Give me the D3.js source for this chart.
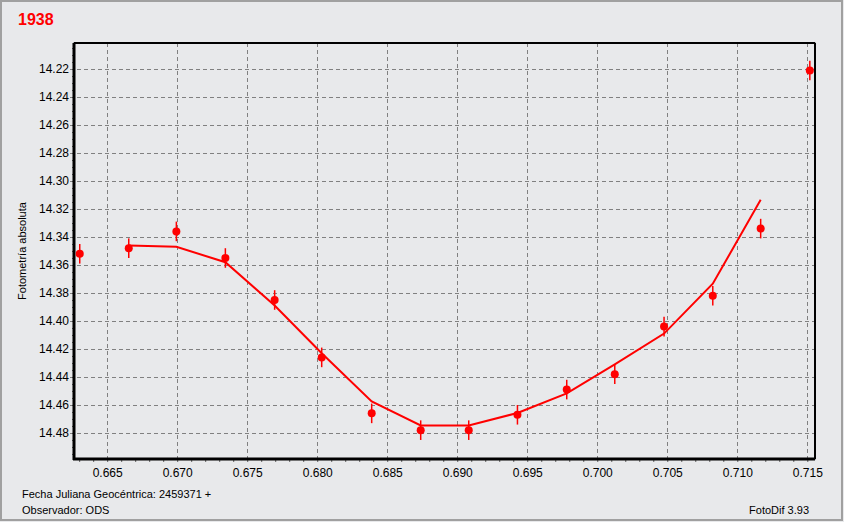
<!DOCTYPE html>
<html><head><meta charset="utf-8">
<script src="https://cdn.jsdelivr.net/npm/d3@7"></script>
<style>
html,body{margin:0;padding:0;background:#e8e9eb;}
svg{display:block;}
text{font-family:"Liberation Sans",Arial,sans-serif;}
</style></head>
<body>
<script>
// ---- data ----
const jd  = [0.66304, 0.66654, 0.66994, 0.67344, 0.67696, 0.68032, 0.68389, 0.68739, 0.69082, 0.69430, 0.69782, 0.70125, 0.70477, 0.70825, 0.71167, 0.71518];
const mag = [14.352, 14.348, 14.336, 14.355, 14.385, 14.426, 14.466, 14.478, 14.478, 14.467, 14.449, 14.438, 14.404, 14.382, 14.334, 14.221];
const err = [0.007, 0.007, 0.007, 0.007, 0.007, 0.007, 0.007, 0.007, 0.007, 0.007, 0.007, 0.007, 0.007, 0.007, 0.007, 0.007];
const fitJd  = [0.66654, 0.66994, 0.67344, 0.67696, 0.68032, 0.68389, 0.68739, 0.69082, 0.69430, 0.69782, 0.70125, 0.70477, 0.70825, 0.71167];
const fitMag = [14.346, 14.347, 14.358, 14.389, 14.423, 14.4575, 14.4746, 14.4746, 14.4657, 14.4517, 14.431, 14.409, 14.3734, 14.3134];
const xTicks = [0.665, 0.670, 0.675, 0.680, 0.685, 0.690, 0.695, 0.700, 0.705, 0.710, 0.715];
const yTicks = [14.22, 14.24, 14.26, 14.28, 14.30, 14.32, 14.34, 14.36, 14.38, 14.40, 14.42, 14.44, 14.46, 14.48];
const title = "1938";
const yLabel = "Fotometría absoluta";
const footer1 = "Fecha Juliana Geocéntrica: 2459371 +";
const footer2 = "Observador: ODS";
const footer3 = "FotoDif 3.93";

const W = 844, H = 522;
const L = 74, R = 815, T = 43, B = 459;

const svg = d3.select("body").append("svg").attr("width", W).attr("height", H);
svg.append("rect").attr("x",0).attr("y",0).attr("width",W).attr("height",H).attr("fill","#e8e9eb");
// window frame
svg.append("rect").attr("x",1).attr("y",1).attr("width",W-3).attr("height",H-3)
  .attr("fill","none").attr("stroke","#a0a0a0").attr("stroke-width",2);

const x = d3.scaleLinear().domain([0.66263, 0.71555]).range([L, R]);
const y = d3.scaleLinear().domain([14.2014, 14.4986]).range([T, B]);

// grid
const g = svg.append("g");
g.selectAll(".gx").data(xTicks).join("line")
  .attr("x1", d => Math.round(x(d))+0.5).attr("x2", d => Math.round(x(d))+0.5)
  .attr("y1", T).attr("y2", B)
  .attr("stroke","#808080").attr("stroke-dasharray","4,3");
g.selectAll(".gy").data(yTicks).join("line")
  .attr("y1", d => Math.round(y(d))+0.5).attr("y2", d => Math.round(y(d))+0.5)
  .attr("x1", L-4).attr("x2", R)
  .attr("stroke","#808080").attr("stroke-dasharray","4,3");

// axes via d3
const xMinor = d3.range(663, 716).map(v => v/1000);
const xAxis = d3.axisBottom(x).tickValues(xMinor).tickSize(3).tickFormat("");
svg.append("g").attr("transform",`translate(0,${B})`).call(xAxis)
  .call(s => s.select(".domain").remove())
  .call(s => s.selectAll("line").attr("stroke","#606060"));
const xLab = d3.axisBottom(x).tickValues(xTicks).tickSize(0).tickPadding(9).tickFormat(d3.format(".3f"));
svg.append("g").attr("transform",`translate(0,${B})`).call(xLab)
  .call(s => s.select(".domain").remove())
  .call(s => s.selectAll("text").attr("font-size",12).attr("fill","#000").attr("font-family","Liberation Sans, Arial, sans-serif"));

const yMinor = d3.range(14205, 14500, 5).map(v => v/1000);
const yAxisMinor = d3.axisLeft(y).tickValues(yMinor).tickSize(2).tickFormat("");
svg.append("g").attr("transform",`translate(${L},0)`).call(yAxisMinor)
  .call(s => s.select(".domain").remove())
  .call(s => s.selectAll("line").attr("stroke","#606060"));
const yLab = d3.axisLeft(y).tickValues(yTicks).tickSize(0).tickPadding(5).tickFormat(d3.format(".2f"));
svg.append("g").attr("transform",`translate(${L},0)`).call(yLab)
  .call(s => s.select(".domain").remove())
  .call(s => s.selectAll("text").attr("font-size",12).attr("fill","#000").attr("font-family","Liberation Sans, Arial, sans-serif"));

// plot frame
svg.append("rect").attr("x",L).attr("y",T).attr("width",R-L).attr("height",B-T)
  .attr("fill","none").attr("stroke","#000").attr("stroke-width",1);
svg.append("line").attr("x1",L).attr("x2",L).attr("y1",T).attr("y2",B+1).attr("stroke","#000").attr("stroke-width",3);
svg.append("line").attr("x1",L-1).attr("x2",R).attr("y1",B).attr("y2",B).attr("stroke","#000").attr("stroke-width",3);
svg.append("line").attr("x1",L).attr("x2",R).attr("y1",T).attr("y2",T).attr("stroke","#000").attr("stroke-width",2);
svg.append("line").attr("x1",R).attr("x2",R).attr("y1",T).attr("y2",B).attr("stroke","#000").attr("stroke-width",2);

// fit line
const line = d3.line().x((d,i) => x(fitJd[i])).y(d => y(d));
svg.append("path").datum(fitMag).attr("d", line)
  .attr("fill","none").attr("stroke","#ff0000").attr("stroke-width",2);

// error bars
const pts = jd.map((d,i) => ({x:d, m:mag[i], e:err[i]}));
svg.append("g").selectAll("line").data(pts).join("line")
  .attr("x1", d => x(d.x)).attr("x2", d => x(d.x))
  .attr("y1", d => y(d.m - d.e)).attr("y2", d => y(d.m + d.e))
  .attr("stroke","#ff0000").attr("stroke-width",1.5);
svg.append("g").selectAll("circle").data(pts).join("circle")
  .attr("cx", d => x(d.x)).attr("cy", d => y(d.m)).attr("r",4)
  .attr("fill","#ff0000");

// texts
svg.append("text").attr("x",18).attr("y",25).text(title)
  .attr("fill","#ff0000").attr("font-weight","bold").attr("font-size",16);
svg.append("text").attr("transform","translate(26,251) rotate(-90)")
  .attr("text-anchor","middle").attr("font-size",11).attr("fill","#000").text(yLabel);
svg.append("text").attr("x",22).attr("y",498).attr("font-size",11).attr("fill","#000").text(footer1);
svg.append("text").attr("x",22).attr("y",514).attr("font-size",11).attr("fill","#000").text(footer2);
svg.append("text").attr("x",809).attr("y",514).attr("text-anchor","end").attr("font-size",11).attr("fill","#000").text(footer3);
</script>
</body></html>
